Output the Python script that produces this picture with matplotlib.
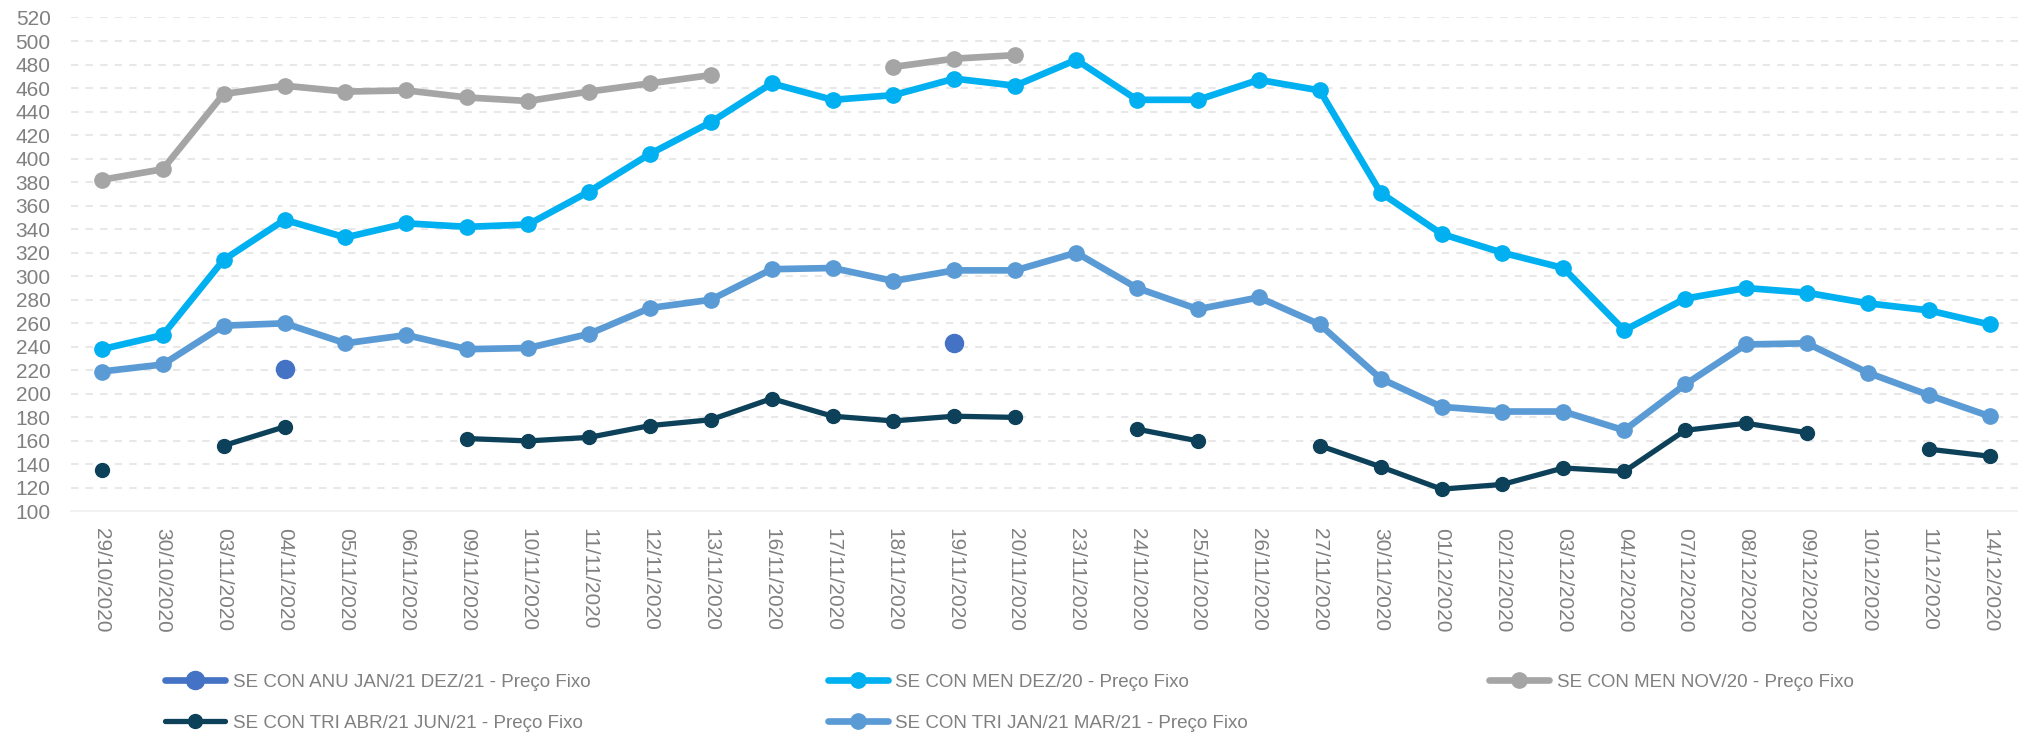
import numpy as np
import matplotlib

matplotlib.use('Agg')
import matplotlib.pyplot as plt

nan = np.nan

datas = ["29/10/2020", "30/10/2020", "03/11/2020", "04/11/2020", "05/11/2020", "06/11/2020",
         "09/11/2020", "10/11/2020", "11/11/2020", "12/11/2020", "13/11/2020", "16/11/2020",
         "17/11/2020", "18/11/2020", "19/11/2020", "20/11/2020", "23/11/2020", "24/11/2020",
         "25/11/2020", "26/11/2020", "27/11/2020", "30/11/2020", "01/12/2020", "02/12/2020",
         "03/12/2020", "04/12/2020", "07/12/2020", "08/12/2020", "09/12/2020", "10/12/2020",
         "11/12/2020", "14/12/2020"]

anu_jan21_dez21 = [nan, nan, nan, 221, nan, nan, nan, nan, nan, nan, nan, nan, nan, nan, 243, nan,
                   nan, nan, nan, nan, nan, nan, nan, nan, nan, nan, nan, nan, nan, nan, nan, nan]
men_dez20 = [238, 250, 314, 348, 333, 345, 342, 344, 372, 404, 431, 464, 450, 454, 468, 462,
             484, 450, 450, 467, 458, 371, 336, 320, 307, 254, 281, 290, 286, 277, 271, 259]
men_nov20 = [382, 391, 455, 462, 457, 458, 452, 449, 457, 464, 471, nan, nan, 478, 485, 488,
             nan, nan, nan, nan, nan, nan, nan, nan, nan, nan, nan, nan, nan, nan, nan, nan]
tri_abr21_jun21 = [135, nan, 156, 172, nan, nan, 162, 160, 163, 173, 178, 196, 181, 177, 181, 180,
                   nan, 170, 160, nan, 156, 138, 119, 123, 137, 134, 169, 175, 167, nan, 153, 147]
tri_jan21_mar21 = [219, 225, 258, 260, 243, 250, 238, 239, 251, 273, 280, 306, 307, 296, 305, 305,
                   320, 290, 272, 282, 259, 213, 189, 185, 185, 169, 208, 242, 243, 218, 199, 181]

cinza_texto = '#808080'
plt.rcParams['font.family'] = ['Liberation Sans', 'DejaVu Sans']

fig = plt.figure(figsize=(20.18, 7.35), dpi=100)
ax = fig.add_axes([0.0354, 0.3041, 0.9656, 0.6721])

x = np.arange(len(datas))

# nome, valores, cor, espessura, marcador, coluna/linha da legenda
series = [
    ('SE CON ANU JAN/21 DEZ/21 - Preço Fixo', anu_jan21_dez21, '#4472C4', 4.8, 13, 0, 0),
    ('SE CON MEN DEZ/20 - Preço Fixo', men_dez20, '#00B0F0', 4.8, 11, 1, 0),
    ('SE CON MEN NOV/20 - Preço Fixo', men_nov20, '#A5A5A5', 4.8, 11, 2, 0),
    ('SE CON TRI ABR/21 JUN/21 - Preço Fixo', tri_abr21_jun21, '#0D4159', 3.8, 10, 0, 1),
    ('SE CON TRI JAN/21 MAR/21 - Preço Fixo', tri_jan21_mar21, '#5B9BD5', 4.8, 11, 1, 1),
]

leg_x = [0.0818, 0.4103, 0.7379]
leg_y = [0.0721, 0.0163]

for nome, vals, cor, lw, ms, col, lin in series:
    h, = ax.plot(x, vals, color=cor, lw=lw, marker='o', ms=ms, label=nome,
                 solid_capstyle='round', zorder=3)
    fig.legend([h], [nome], loc='center left', bbox_to_anchor=(leg_x[col], leg_y[lin]),
               frameon=False, fontsize=13.5, labelcolor=cinza_texto, handlelength=3.2,
               handletextpad=0.4, borderpad=0, borderaxespad=0)

ax.set_xlim(-0.5, 31.5)
ax.set_ylim(100, 520)
ax.set_yticks(np.arange(100, 521, 20))
ax.set_xticks(x)
ax.set_xticklabels(datas, rotation=270, va='top', ha='center')
ax.tick_params(axis='both', length=0, labelsize=15, colors=cinza_texto)
ax.tick_params(axis='x', pad=12)
ax.tick_params(axis='y', pad=15)

for s in ['top', 'right', 'left']:
    ax.spines[s].set_visible(False)
ax.spines['bottom'].set_color('#F2F2F2')
ax.spines['bottom'].set_linewidth(1.5)

for v in np.arange(120, 521, 20):
    ax.axhline(v, color='#E8E8E8', lw=1.5, dashes=(3.5, 3.5), zorder=1)

fig.savefig('out.png', dpi=100)
